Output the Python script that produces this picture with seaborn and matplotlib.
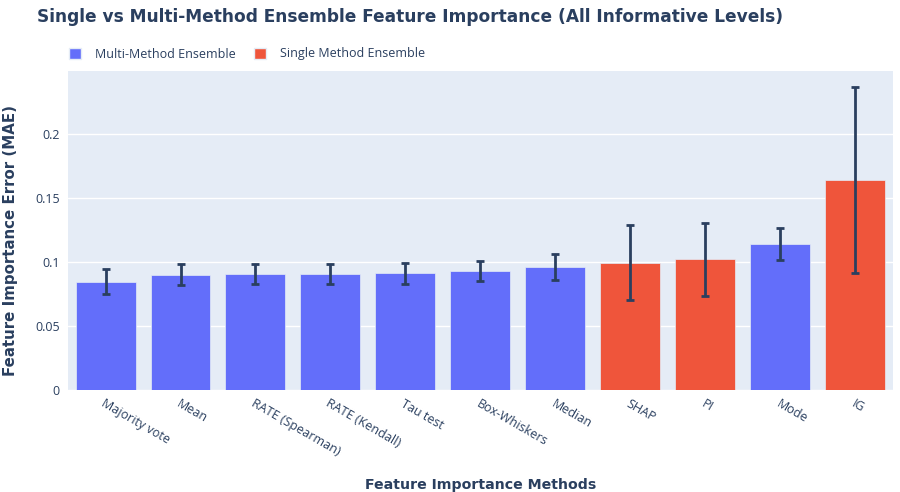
import numpy as np
import pandas as pd
import matplotlib
matplotlib.use("Agg")
import matplotlib.pyplot as plt
import seaborn as sns
from matplotlib.patches import Patch

# values
methods = ["Majority vote", "Mean", "RATE (Spearman)", "RATE (Kendall)", "Tau test",
           "Box-Whiskers", "Median", "SHAP", "PI", "Mode", "IG"]
mae = [0.0846, 0.0901, 0.0906, 0.0906, 0.0911, 0.0930, 0.0961, 0.0992, 0.1021, 0.1140, 0.1640]
mae_err = [0.0098, 0.0082, 0.0081, 0.0081, 0.0082, 0.0080, 0.0100, 0.0293, 0.0285, 0.0124, 0.0725]
groups = ["Multi-Method Ensemble"] * 7 + ["Single Method Ensemble"] * 2 + \
         ["Multi-Method Ensemble"] + ["Single Method Ensemble"]

palette = {"Multi-Method Ensemble": "#636EFA", "Single Method Ensemble": "#EF553B"}
text_color = "#2a3f5f"

df = pd.DataFrame({"method": methods, "mae": mae, "err": mae_err, "group": groups})

sns.set_theme(style="darkgrid")
plt.rcParams["font.family"] = ["Open Sans", "DejaVu Sans"]

fig = plt.figure(figsize=(9, 4.92), dpi=100)
ax = fig.add_axes([0.0756, 0.2073, 0.9164, 0.6484])
ax.set_facecolor("#E5ECF6")

sns.barplot(data=df, x="method", y="mae", hue="group", palette=palette, dodge=False,
            width=0.8, saturation=1, edgecolor="#E5ECF6", linewidth=0.5, legend=False,
            ax=ax, errorbar=None)
ax.errorbar(np.arange(len(methods)), df["mae"], yerr=df["err"], fmt="none",
            ecolor=text_color, elinewidth=2, capsize=3, capthick=2, zorder=5)

ax.set_xlim(-0.5, len(methods) - 0.5)
ax.set_ylim(0, 0.249)
ax.set_yticks([0, 0.05, 0.1, 0.15, 0.2])
ax.set_yticklabels(["0", "0.05", "0.1", "0.15", "0.2"])
ax.grid(axis="y", color="white", linewidth=1)
ax.grid(axis="x", visible=False)
for s in ax.spines.values():
    s.set_visible(False)
ax.tick_params(axis="both", length=0, colors=text_color, labelsize=9)
ax.tick_params(axis="y", pad=6)
plt.setp(ax.get_xticklabels(), rotation=-30, ha="left", va="top", rotation_mode="anchor")
ax.tick_params(axis="x", pad=5)

ax.set_xlabel("Feature Importance Methods", fontsize=10.2, fontweight="bold",
              color=text_color, family="DejaVu Sans")
ax.xaxis.set_label_coords(0.5, -0.276)
ax.set_ylabel("Feature Importance Error (MAE)", fontsize=10.8, fontweight="bold",
              color=text_color, family="DejaVu Sans")
ax.yaxis.set_label_coords(-0.061, 0.47)

fig.text(37 / 900, 1 - 17 / 492, "Single vs Multi-Method Ensemble Feature Importance (All Informative Levels)",
         fontsize=12.25, fontweight="bold", color=text_color, family="DejaVu Sans",
         ha="left", va="center")

handles = [Patch(facecolor=palette[k], edgecolor="#E5ECF6", label=k) for k in palette]
fig.legend(handles=handles, loc="center left", bbox_to_anchor=(69 / 900, 1 - 54 / 492),
           ncol=2, frameon=False, fontsize=9, labelcolor=text_color, borderpad=0,
           borderaxespad=0, handlelength=0.96, handleheight=0.96, handletextpad=1.1,
           columnspacing=1.5)

fig.savefig("out.png", dpi=100)
